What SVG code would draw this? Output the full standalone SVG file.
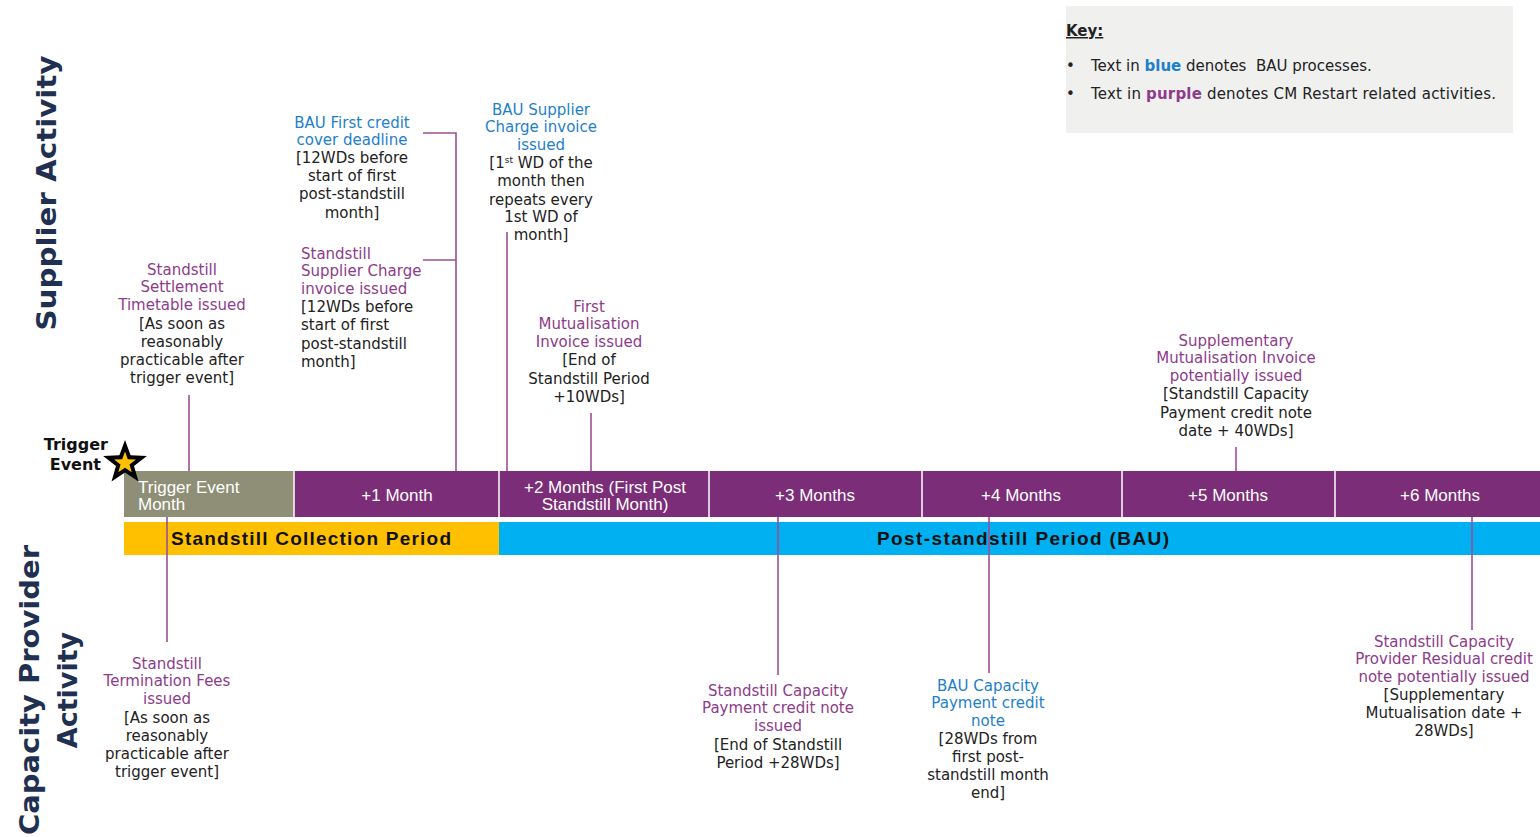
<svg xmlns="http://www.w3.org/2000/svg" width="1540" height="837" viewBox="0 0 1540 837">
<style>
.t{font-family:"DejaVu Sans",Verdana,sans-serif;font-size:15px;fill:#222;}
.c{text-anchor:middle;}
.b{fill:#1E7FCB;}
.p{fill:#8E3B8A;}
.bar{font-family:"Liberation Sans",Arial,sans-serif;font-size:17px;fill:#fff;}
.per{font-family:"Liberation Sans",Arial,sans-serif;font-size:19px;font-weight:bold;fill:#111;text-anchor:middle;}
.ttl{font-family:"DejaVu Sans",Verdana,sans-serif;font-weight:bold;font-size:27px;fill:#1F3050;text-anchor:middle;}
.ln{stroke:#9B4F97;stroke-width:1.6;fill:none;}
.cell{fill:#7B2D77;}
.sep{stroke:#fff;stroke-width:1.5;}
</style>
<rect width="1540" height="837" fill="#fff"/>

<g id="key">
<rect x="1066" y="6" width="447" height="127" fill="#F0F0EF"/>
<text class="t" x="1066" y="36" font-weight="bold" text-decoration="underline">Key:</text>
<text class="t" x="1066" y="71">•</text>
<text class="t" x="1091" y="71" xml:space="preserve">Text in <tspan class="b" font-weight="bold">blue</tspan> denotes  BAU processes.</text>
<text class="t" x="1066" y="99">•</text>
<text class="t" x="1091" y="99" textLength="405">Text in <tspan class="p" font-weight="bold">purple</tspan> denotes CM Restart related activities.</text>
</g>

<g id="titles">
<text class="ttl" transform="translate(56,193) rotate(-90)" textLength="275" lengthAdjust="spacingAndGlyphs">Supplier  Activity</text>
<text class="ttl" transform="translate(39,690) rotate(-90)" textLength="290" lengthAdjust="spacingAndGlyphs">Capacity  Provider</text>
<text class="ttl" transform="translate(77,690) rotate(-90)">Activity</text>
</g>

<g id="timeline">
<rect x="124" y="471" width="170" height="46" fill="#8E8F76"/>
<rect class="cell" x="294" y="471" width="1246" height="46"/>
<line class="sep" x1="294" y1="471" x2="294" y2="517"/>
<line class="sep" x1="499" y1="471" x2="499" y2="517"/>
<line class="sep" x1="709" y1="471" x2="709" y2="517"/>
<line class="sep" x1="922" y1="471" x2="922" y2="517"/>
<line class="sep" x1="1122" y1="471" x2="1122" y2="517"/>
<line class="sep" x1="1335" y1="471" x2="1335" y2="517"/>
<text class="bar" x="138" y="493">Trigger Event</text>
<text class="bar" x="138" y="510">Month</text>
<text class="bar c" x="397" y="501">+1 Month</text>
<text class="bar c" x="605" y="493">+2 Months (First Post</text>
<text class="bar c" x="605" y="510">Standstill Month)</text>
<text class="bar c" x="815" y="501">+3 Months</text>
<text class="bar c" x="1021" y="501">+4 Months</text>
<text class="bar c" x="1228" y="501">+5 Months</text>
<text class="bar c" x="1440" y="501">+6 Months</text>
<rect x="124" y="522" width="375" height="33" fill="#FFC000"/>
<rect x="499" y="522" width="1041" height="33" fill="#00B0F0"/>
<text class="per" x="311" y="545" textLength="280" lengthAdjust="spacing">Standstill Collection Period</text>
<text class="per" x="1023" y="545" textLength="292" lengthAdjust="spacing">Post-standstill Period (BAU)</text>
</g>

<g id="trigger">
<text x="108" y="450" font-family="DejaVu Sans,sans-serif" font-size="16" font-weight="bold" text-anchor="end" fill="#111">Trigger</text>
<text x="101" y="470" font-family="DejaVu Sans,sans-serif" font-size="16" font-weight="bold" text-anchor="end" fill="#111">Event</text>
<polygon points="125,440 130.6,455.3 146.9,455.9 134,465.9 138.5,481.6 125,472.5 111.5,481.6 116,465.9 103.1,455.9 119.4,455.3" fill="#000"/>
<polygon points="125,440 130.6,455.3 146.9,455.9 134,465.9 138.5,481.6 125,472.5 111.5,481.6 116,465.9 103.1,455.9 119.4,455.3" fill="#FFC000" transform="translate(125,463) scale(0.5) translate(-125,-463)"/>
</g>

<g id="connectors">
<line class="ln" x1="189" y1="395" x2="189" y2="471"/>
<polyline class="ln" points="423,133 456,133 456,471"/>
<line class="ln" x1="423" y1="260" x2="456" y2="260"/>
<line class="ln" x1="507" y1="232" x2="507" y2="471"/>
<line class="ln" x1="591" y1="413" x2="591" y2="471"/>
<line class="ln" x1="1236" y1="447" x2="1236" y2="471"/>
<line class="ln" x1="167" y1="517" x2="167" y2="642"/>
<line class="ln" x1="778" y1="517" x2="778" y2="675"/>
<line class="ln" x1="989" y1="517" x2="989" y2="673"/>
<line class="ln" x1="1472" y1="517" x2="1472" y2="630"/>
</g>

<g id="n-settlement">
<text class="t c" x="182"><tspan class="p" x="182" y="275">Standstill</tspan><tspan class="p" x="182" y="292">Settlement</tspan><tspan class="p" x="182" y="310">Timetable issued</tspan><tspan x="182" y="329">[As soon as</tspan><tspan x="182" y="347">reasonably</tspan><tspan x="182" y="365">practicable after</tspan><tspan x="182" y="383">trigger event]</tspan></text>
</g>

<g id="n-bau-credit">
<text class="t c"><tspan class="b" x="352" y="128">BAU First credit</tspan><tspan class="b" x="352" y="145">cover deadline</tspan><tspan x="352" y="163">[12WDs before</tspan><tspan x="352" y="181">start of first</tspan><tspan x="352" y="199">post-standstill</tspan><tspan x="352" y="218">month]</tspan></text>
</g>

<g id="n-supplier-charge">
<text class="t"><tspan class="p" x="301" y="259">Standstill</tspan><tspan class="p" x="301" y="276">Supplier Charge</tspan><tspan class="p" x="301" y="294">invoice issued</tspan><tspan x="301" y="312">[12WDs before</tspan><tspan x="301" y="330">start of first</tspan><tspan x="301" y="349">post-standstill</tspan><tspan x="301" y="367">month]</tspan></text>
</g>

<g id="n-bau-supplier-charge">
<text class="t c"><tspan class="b" x="541" y="115">BAU Supplier</tspan><tspan class="b" x="541" y="132">Charge invoice</tspan><tspan class="b" x="541" y="150">issued</tspan><tspan x="541" y="168">[1<tspan font-size="9" dy="-5">st</tspan><tspan dy="5"> WD of the</tspan></tspan><tspan x="541" y="186">month then</tspan><tspan x="541" y="205">repeats every</tspan><tspan x="541" y="222">1st WD of</tspan><tspan x="541" y="240">month]</tspan></text>
</g>

<g id="n-first-mutualisation">
<text class="t c"><tspan class="p" x="589" y="312">First</tspan><tspan class="p" x="589" y="329">Mutualisation</tspan><tspan class="p" x="589" y="347">Invoice issued</tspan><tspan x="589" y="365">[End of</tspan><tspan x="589" y="384">Standstill Period</tspan><tspan x="589" y="402">+10WDs]</tspan></text>
</g>

<g id="n-supplementary">
<text class="t c"><tspan class="p" x="1236" y="346">Supplementary</tspan><tspan class="p" x="1236" y="363">Mutualisation Invoice</tspan><tspan class="p" x="1236" y="381">potentially issued</tspan><tspan x="1236" y="399">[Standstill Capacity</tspan><tspan x="1236" y="418">Payment credit note</tspan><tspan x="1236" y="436">date + 40WDs]</tspan></text>
</g>

<g id="n-termination">
<text class="t c"><tspan class="p" x="167" y="669">Standstill</tspan><tspan class="p" x="167" y="686">Termination Fees</tspan><tspan class="p" x="167" y="704">issued</tspan><tspan x="167" y="723">[As soon as</tspan><tspan x="167" y="741">reasonably</tspan><tspan x="167" y="759">practicable after</tspan><tspan x="167" y="777">trigger event]</tspan></text>
</g>

<g id="n-capacity-payment">
<text class="t c"><tspan class="p" x="778" y="696">Standstill Capacity</tspan><tspan class="p" x="778" y="713">Payment credit note</tspan><tspan class="p" x="778" y="731">issued</tspan><tspan x="778" y="750">[End of Standstill</tspan><tspan x="778" y="768">Period +28WDs]</tspan></text>
</g>

<g id="n-bau-capacity">
<text class="t c"><tspan class="b" x="988" y="691">BAU Capacity</tspan><tspan class="b" x="988" y="708">Payment credit</tspan><tspan class="b" x="988" y="726">note</tspan><tspan x="988" y="744">[28WDs from</tspan><tspan x="988" y="762">first post-</tspan><tspan x="988" y="780">standstill month</tspan><tspan x="988" y="798">end]</tspan></text>
</g>

<g id="n-residual">
<text class="t c"><tspan class="p" x="1444" y="647">Standstill Capacity</tspan><tspan class="p" x="1444" y="664">Provider Residual credit</tspan><tspan class="p" x="1444" y="682">note potentially issued</tspan><tspan x="1444" y="700">[Supplementary</tspan><tspan x="1444" y="718">Mutualisation date +</tspan><tspan x="1444" y="736">28WDs]</tspan></text>
</g>
</svg>
